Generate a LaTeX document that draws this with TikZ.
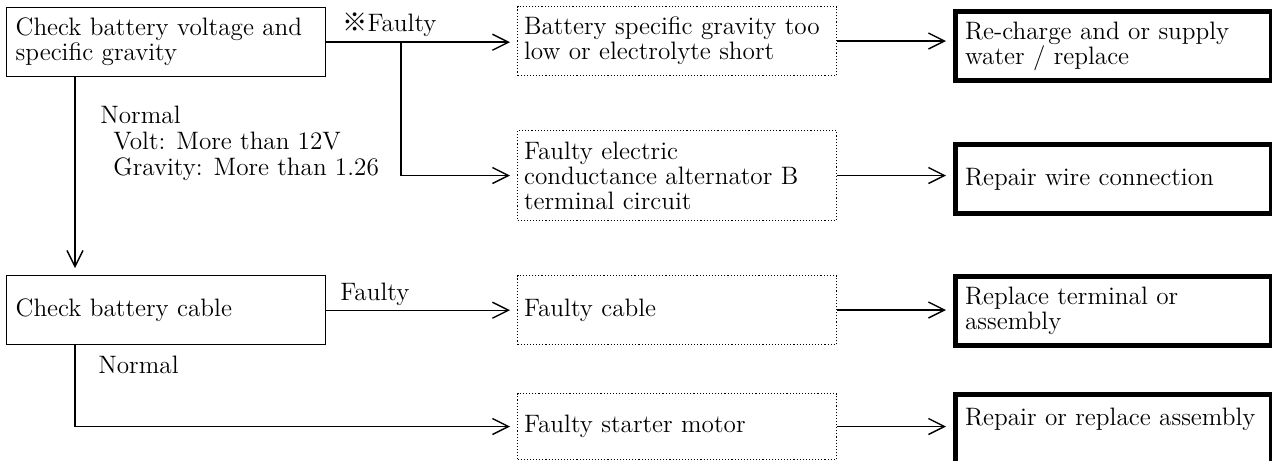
\documentclass[tikz,border=0pt]{standalone}
\usepackage{fontspec}
\newfontfamily\cjkfont{Noto Sans CJK JP}
\usepackage{tikz}
\usetikzlibrary{arrows.meta}
\tikzset{
  box/.style   ={draw, line width=0.7pt, anchor=north west, align=left,
                 minimum width=159.5pt, minimum height=34.5pt,
                 text width=150.5pt, inner xsep=4.5pt, inner ysep=2pt},
  cause/.style ={box, line width=0.55pt, densely dotted, text width=153pt, inner xsep=3pt},
  act/.style   ={box, line width=2.5pt, minimum width=158pt, text width=148.5pt, inner xsep=4.75pt},
  flow/.style  ={-{Straight Barb[length=8pt, width=8pt]}, line width=0.7pt, shorten >=3.5pt},
  lbl/.style   ={inner sep=0pt, align=left},
}
\begin{document}
\begin{tikzpicture}[x=0.5pt, y=-0.5pt, font=\fontsize{12.6}{12.5}\selectfont]
  \useasboundingbox (0,0) rectangle (1272,460);
  \node[box] (chkbat) at (6,7) {Check battery voltage and\\specific gravity};
  \node[cause] (lowsg) at (517,6) {Battery specific gravity too\\low or electrolyte short};
  \node[cause, minimum height=45pt] (altb) at (517,130) {Faulty electric\\conductance alternator B\\terminal circuit};
  \node[act] (charge) at (953,9) {Re-charge and or supply\\water / replace};
  \node[act] (wire) at (953,142) {Repair wire connection};
  \node[box] (chkcab) at (6,275) {Check battery cable};
  \node[cause] (badcab) at (517,275) {Faulty cable};
  \node[cause, minimum height=33pt] (starter) at (517,393) {Faulty starter motor};
  \node[act] (term) at (953,274) {Replace terminal or\\assembly};
  \node[act] (motor) at (953,392) {Repair or replace assembly\\\mbox{}};
  \coordinate (fork) at (401,0);
  \coordinate (spine) at (75,0);
  \draw[flow] (chkbat.east) -- (chkbat.east -| lowsg.west);
  \draw[flow] (chkbat.east -| fork) |- (altb.west);
  \draw[flow] (lowsg.east) -- (lowsg.east -| charge.west);
  \draw[flow] (altb.east) -- (altb.east -| wire.west);
  \draw[flow] (chkbat.south -| spine) -- (chkcab.north -| spine);
  \draw[flow] (chkcab.east) -- (chkcab.east -| badcab.west);
  \draw[flow] (chkcab.south -| spine) |- (starter.west);
  \draw[flow] (badcab.east) -- (badcab.east -| term.west);
  \draw[flow] (starter.east) -- (starter.east -| motor.west);
  \node[lbl, anchor=base west] (flt1) at (342,32) {{\cjkfont ※}Faulty};
  \node[lbl, anchor=north west, font=\fontsize{12.6}{13}\selectfont] (ok1) at (100,106)
    {Normal\\\hspace*{6.5pt}Volt: More than 12V\\\hspace*{6.5pt}Gravity: More than 1.26};
  \node[lbl, anchor=base west] (flt2) at (340,300) {Faulty};
  \node[lbl, anchor=base west] (ok2) at (98,373) {Normal};
\end{tikzpicture}
\end{document}
